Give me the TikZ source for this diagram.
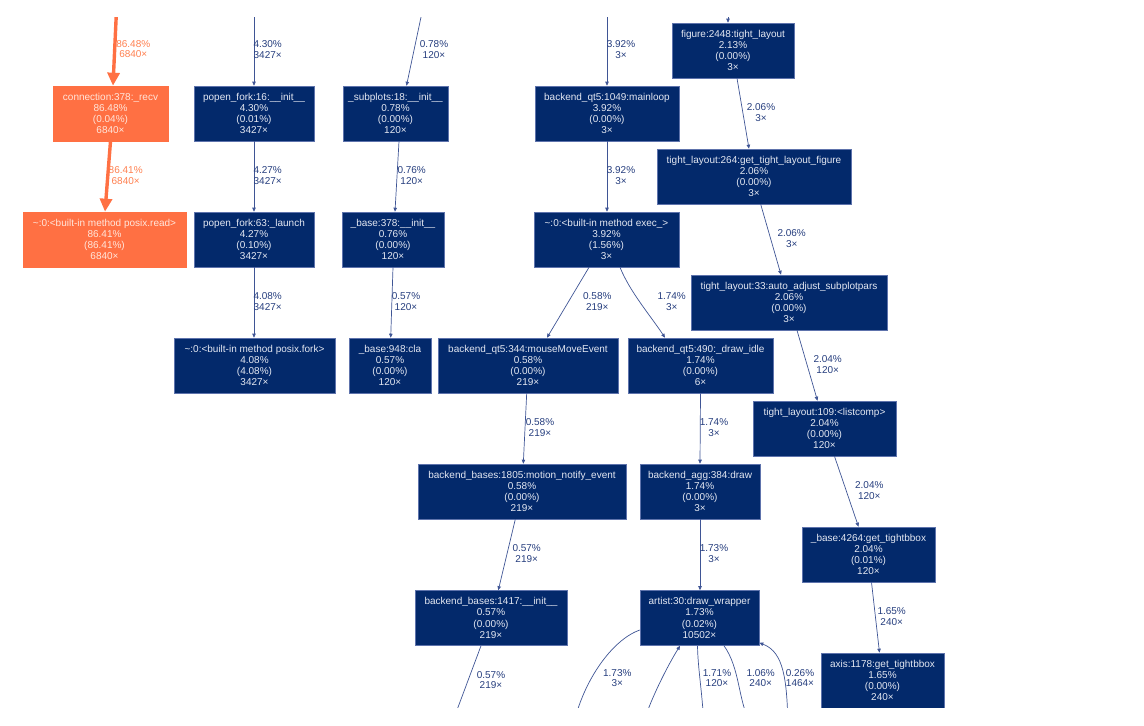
\documentclass[tikz,border=0pt]{standalone}
\usepackage{fontspec}
\setmainfont{Liberation Sans}
\usetikzlibrary{arrows.meta}
\definecolor{navy}{HTML}{03296B}
\definecolor{navyborder}{HTML}{5E73AC}
\definecolor{navytext}{HTML}{E4E8F2}
\definecolor{edgeblue}{HTML}{3F5595}
\definecolor{lblblue}{HTML}{263E7E}
\definecolor{hot}{HTML}{FF7043}
\definecolor{hottext}{HTML}{FFE6DB}
\definecolor{hotlbl}{HTML}{FF8050}
\begin{document}
\begin{tikzpicture}[x=1pt,y=-1pt,
  fn/.style={rectangle, fill=navy, draw=navyborder, line width=0.6pt, text=navytext, align=center,
    minimum height=55pt, inner sep=0pt, font=\fontsize{10}{11.2}\selectfont},
  fnhot/.style={fn, fill=hot, draw=hot, text=hottext},
  e/.style={draw=edgeblue, line width=0.7pt, -{Triangle[length=4pt,width=3.5pt]}},
  ehot/.style={draw=hot, line width=3.4pt, -{Triangle[length=13pt,width=12pt]}},
  lbl/.style={text=lblblue, align=center, inner sep=0pt, font=\fontsize{10}{10.6}\selectfont},
  lblhot/.style={lbl, text=hotlbl}]
\path[use as bounding box] (0,0) rectangle (1144,726);
\begin{scope}
\clip (0,17) rectangle (1144,707);
% nodes
\node[fnhot, minimum width=115pt] (recv) at (110.5,113.5) {connection:378:\_recv\\86.48\%\\(0.04\%)\\6840×};
\node[fnhot, minimum width=163pt] (read) at (104.5,239.5) {\textasciitilde:0:<built-in method posix.read>\\86.41\%\\(86.41\%)\\6840×};
\node[fn, minimum width=120pt] (pf16) at (254,113.5) {popen\_fork:16:\_\_init\_\_\\4.30\%\\(0.01\%)\\3427×};
\node[fn, minimum width=120pt] (pf63) at (254,239.5) {popen\_fork:63:\_launch\\4.27\%\\(0.10\%)\\3427×};
\node[fn, minimum width=161pt] (fork) at (254.5,365.5) {\textasciitilde:0:<built-in method posix.fork>\\4.08\%\\(4.08\%)\\3427×};
\node[fn, minimum width=105pt] (subplots) at (395.5,113.5) {\_subplots:18:\_\_init\_\_\\0.78\%\\(0.00\%)\\120×};
\node[fn, minimum width=102pt] (base378) at (393,239.5) {\_base:378:\_\_init\_\_\\0.76\%\\(0.00\%)\\120×};
\node[fn, minimum width=82pt] (cla) at (390,365.5) {\_base:948:cla\\0.57\%\\(0.00\%)\\120×};
\node[fn, minimum width=144pt] (mainloop) at (607,113.5) {backend\_qt5:1049:mainloop\\3.92\%\\(0.00\%)\\3×};
\node[fn, minimum width=145pt] (exec) at (606.5,239.5) {\textasciitilde:0:<built-in method exec\_>\\3.92\%\\(1.56\%)\\3×};
\node[fn, minimum width=122pt] (figure) at (733,50.5) {figure:2448:tight\_layout\\2.13\%\\(0.00\%)\\3×};
\node[fn, minimum width=194pt] (tl264) at (754,176.5) {tight\_layout:264:get\_tight\_layout\_figure\\2.06\%\\(0.00\%)\\3×};
\node[fn, minimum width=196pt] (tl33) at (789,302.5) {tight\_layout:33:auto\_adjust\_subplotpars\\2.06\%\\(0.00\%)\\3×};
\node[fn, minimum width=180pt] (mouse) at (528,365.5) {backend\_qt5:344:mouseMoveEvent\\0.58\%\\(0.00\%)\\219×};
\node[fn, minimum width=145pt] (idle) at (700.5,365.5) {backend\_qt5:490:\_draw\_idle\\1.74\%\\(0.00\%)\\6×};
\node[fn, minimum width=143pt] (tl109) at (824.5,428.5) {tight\_layout:109:<listcomp>\\2.04\%\\(0.00\%)\\120×};
\node[fn, minimum width=208pt] (motion) at (522,491.5) {backend\_bases:1805:motion\_notify\_event\\0.58\%\\(0.00\%)\\219×};
\node[fn, minimum width=120pt] (agg) at (700,491.5) {backend\_agg:384:draw\\1.74\%\\(0.00\%)\\3×};
\node[fn, minimum width=133pt] (b4264) at (868.5,554.5) {\_base:4264:get\_tightbbox\\2.04\%\\(0.01\%)\\120×};
\node[fn, minimum width=152pt] (b1417) at (491,618) {backend\_bases:1417:\_\_init\_\_\\0.57\%\\(0.00\%)\\219×};
\node[fn, minimum width=119pt] (artist) at (699.5,618) {artist:30:draw\_wrapper\\1.73\%\\(0.02\%)\\10502×};
\node[fn, minimum width=123pt] (axis) at (882.5,680.5) {axis:1178:get\_tightbbox\\1.65\%\\(0.00\%)\\240×};
% free ends
\coordinate (tRecv) at (116.5,10);
\coordinate (tPf) at (254,10);
\coordinate (tSub) at (422.5,10);
\coordinate (tMain) at (607,10);
\coordinate (tFig) at (728,10);
\coordinate (b1417out) at (451,726);
\coordinate (ca) at (573,727);
\coordinate (cb) at (642,727);
\coordinate (cc) at (704,727);
\coordinate (cd) at (752,727);
\coordinate (ce) at (788,727);
% edges
\draw[ehot] (tRecv) -- ([xshift=2.5pt]recv.north);
\draw[ehot] (recv.south) -- ([xshift=0.5pt]read.north);
\draw[e] (tPf) -- (pf16.north);
\draw[e] (pf16.south) -- (pf63.north);
\draw[e] (pf63.south) -- ([xshift=-0.5pt]fork.north);
\draw[e] (tSub) -- ([xshift=11pt]subplots.north);
\draw[e] ([xshift=3.5pt]subplots.south) -- ([xshift=2pt]base378.north);
\draw[e] (base378.south) -- ([xshift=0.7pt]cla.north);
\draw[e] (tMain) -- (mainloop.north);
\draw[e] (mainloop.south) -- ([xshift=0.5pt]exec.north);
\draw[e] ([xshift=-17.5pt]exec.south) -- ([xshift=19pt]mouse.north);
\draw[e] ([xshift=13.5pt]exec.south) .. controls (630,292) and (650,315) .. ([xshift=-35.5pt]idle.north);
\draw[e] (tFig) -- ([xshift=-5pt]figure.north);
\draw[e] ([xshift=4pt]figure.south) -- ([xshift=-5pt]tl264.north);
\draw[e] ([xshift=6.7pt]tl264.south) -- ([xshift=-8pt]tl33.north);
\draw[e] ([xshift=8pt]tl33.south) -- ([xshift=-7pt]tl109.north);
\draw[e] ([xshift=10pt]tl109.south) -- ([xshift=-10pt]b4264.north);
\draw[e] ([xshift=3pt]b4264.south) -- ([xshift=-3pt]axis.north);
\draw[e] ([xshift=-1.3pt]mouse.south) -- ([xshift=1.3pt]motion.north);
\draw[e] ([xshift=-6.7pt]motion.south) -- ([xshift=7.3pt]b1417.north);
\draw[e] ([xshift=-10pt]b1417.south) -- (b1417out);
\draw[e] (idle.south) -- (agg.north);
\draw[e] (agg.south) -- ([xshift=0.5pt]artist.north);
\draw[e] ([yshift=-12pt]artist.west) .. controls (612,640) and (584,680) .. (ca);
\draw[e] (cb) .. controls (650,700) and (668,665) .. ([xshift=-19.5pt]artist.south);
\draw[e] ([xshift=-2pt]artist.south) .. controls (698,670) and (702,690) .. (cc);
\draw[e] ([xshift=24.5pt]artist.south) .. controls (740,668) and (738,700) .. (cd);
\draw[e] (ce) .. controls (787,680) and (784,652) .. ([yshift=3pt]artist.south east);
% labels
\node[lblhot] (l1) at (133.3,49) {86.48\%\\6840×};
\node[lblhot] (l2) at (125.7,175.7) {86.41\%\\6840×};
\node[lbl] (l3) at (267.7,49.3) {4.30\%\\3427×};
\node[lbl] (l4) at (267.7,175.7) {4.27\%\\3427×};
\node[lbl] (l5) at (267.7,301.7) {4.08\%\\3427×};
\node[lbl] (l6) at (434,49.3) {0.78\%\\120×};
\node[lbl] (l7) at (411.7,175.7) {0.76\%\\120×};
\node[lbl] (l8) at (406,301.7) {0.57\%\\120×};
\node[lbl] (l9) at (621,49.3) {3.92\%\\3×};
\node[lbl] (l10) at (621,175.7) {3.92\%\\3×};
\node[lbl] (l11) at (597.3,301.7) {0.58\%\\219×};
\node[lbl] (l12) at (671.7,301.7) {1.74\%\\3×};
\node[lbl] (l13) at (761,112.7) {2.06\%\\3×};
\node[lbl] (l14) at (791.7,238.3) {2.06\%\\3×};
\node[lbl] (l15) at (827.7,364.3) {2.04\%\\120×};
\node[lbl] (l16) at (869.3,490.7) {2.04\%\\120×};
\node[lbl] (l17) at (891.7,616.7) {1.65\%\\240×};
\node[lbl] (l18) at (540,427.7) {0.58\%\\219×};
\node[lbl] (l19) at (526.7,553.3) {0.57\%\\219×};
\node[lbl] (l20) at (491,680) {0.57\%\\219×};
\node[lbl] (l21) at (714,427.7) {1.74\%\\3×};
\node[lbl] (l22) at (714,553.3) {1.73\%\\3×};
\node[lbl] (l23) at (617.3,678) {1.73\%\\3×};
\node[lbl] (l24) at (717,678) {1.71\%\\120×};
\node[lbl] (l25) at (760.7,678) {1.06\%\\240×};
\node[lbl] (l26) at (800,678) {0.26\%\\1464×};
\end{scope}
\end{tikzpicture}
\end{document}
